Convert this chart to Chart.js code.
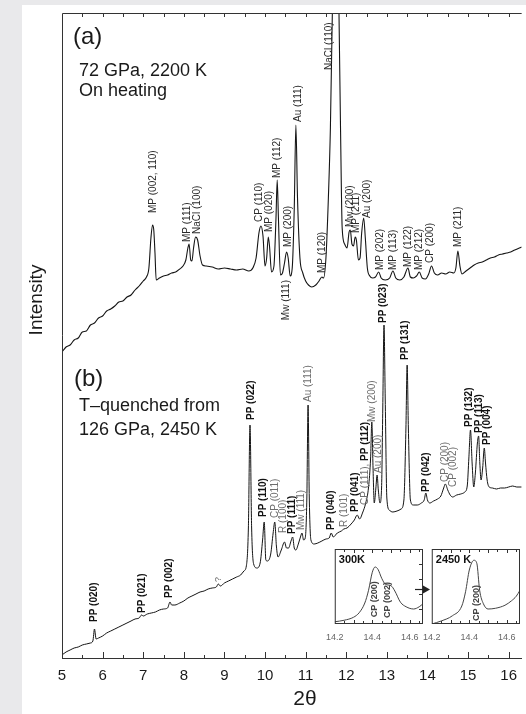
<!DOCTYPE html>
<html>
<head>
<meta charset="utf-8">
<script src="https://cdn.jsdelivr.net/npm/chart.js@4/dist/chart.umd.min.js"></script>
<style>
  html, body { margin: 0; padding: 0; width: 526px; height: 714px; overflow: hidden; background: #e9e9eb; }
  #sheet { position: absolute; left: 22px; top: 5px; width: 504px; height: 709px; background: #ffffff; }
  canvas { position: absolute; }
</style>
</head>
<body>
<div id="sheet"></div>
<canvas id="main" width="526" height="714" style="left:0;top:0"></canvas>
<canvas id="inset300" width="120" height="110" style="left:318px;top:540px"></canvas>
<canvas id="inset2450" width="120" height="110" style="left:415px;top:540px"></canvas>
<script>
// ---- (a) 72 GPa, 2200 K, on heating ----
const twoThetaA = [
  5.00, 5.10, 5.20, 5.30, 5.40, 5.50, 5.60, 5.70, 5.80, 5.90, 6.00, 6.10, 6.20, 6.30, 6.40, 6.50,
  6.60, 6.70, 6.80, 6.90, 7.00, 7.08, 7.14, 7.19, 7.23, 7.26, 7.29, 7.32, 7.40, 7.50, 7.60, 7.70,
  7.80, 7.90, 7.98, 8.05, 8.10, 8.13, 8.17, 8.20, 8.24, 8.29, 8.34, 8.40, 8.46, 8.55, 8.70, 8.85,
  9.00, 9.15, 9.30, 9.45, 9.60, 9.70, 9.78, 9.85, 9.90, 9.95, 10.00, 10.04, 10.08, 10.11, 10.16,
  10.22, 10.27, 10.30, 10.33, 10.38, 10.43, 10.48, 10.53, 10.57, 10.62, 10.67, 10.72, 10.76, 10.80,
  10.86, 10.93, 11.00, 11.07, 11.15, 11.25, 11.33, 11.40, 11.44, 11.50, 11.56, 11.61, 11.66, 11.70,
  11.74, 11.78, 11.82, 11.86, 11.90, 11.96, 12.02, 12.07, 12.10, 12.14, 12.18, 12.22, 12.25, 12.30,
  12.34, 12.38, 12.43, 12.47, 12.52, 12.58, 12.65, 12.72, 12.80, 12.86, 12.96, 13.07, 13.15, 13.22,
  13.32, 13.42, 13.52, 13.58, 13.65, 13.73, 13.80, 13.87, 13.95, 14.03, 14.10, 14.17, 14.25, 14.35,
  14.45, 14.55, 14.65, 14.70, 14.75, 14.80, 14.85, 14.95, 15.05, 15.15, 15.25, 15.35, 15.45, 15.55,
  15.65, 15.75, 15.85, 15.95, 16.05, 16.15, 16.32
];
const intensityA = [
  306, 311, 313, 318, 320, 326, 327, 333, 335, 340, 342, 347, 349, 352, 356, 357,
  361, 363, 368, 372, 377, 381, 390, 420, 433, 428, 405, 378, 380, 382, 383, 385,
  386, 389, 392, 398, 410, 414, 398, 397, 410, 421, 418, 402, 393, 392, 391, 389,
  390, 389, 388, 389, 387, 390, 400, 425, 432, 422, 392, 400, 421, 412, 386,
  392, 440, 478, 440, 383, 385, 395, 406, 400, 382, 390, 450, 533, 460,
  400, 385, 377, 373, 371, 373, 377, 381, 380, 400, 460, 530, 650, 780,
  900, 780, 650, 528, 430, 414, 410, 426, 428, 414, 412, 421, 418, 398,
  400, 425, 440, 420, 390, 382, 380, 381, 386, 380, 378, 380, 387, 380,
  378, 381, 390, 381, 380, 382, 386, 380, 379, 384, 392, 385, 383, 385,
  384, 386, 385, 390, 407, 392, 384, 387, 390, 393, 395, 396, 398, 400,
  401, 403, 404, 405, 406, 408, 411
];

// ---- (b) T-quenched from 126 GPa, 2450 K ----
const twoThetaB = [
  5.00, 5.10, 5.20, 5.30, 5.40, 5.50, 5.60, 5.70, 5.76, 5.80, 5.84, 5.90, 6.00, 6.10, 6.20, 6.30,
  6.40, 6.50, 6.60, 6.70, 6.80, 6.90, 6.96, 7.00, 7.10, 7.20, 7.30, 7.40, 7.50, 7.60, 7.66, 7.70,
  7.78, 7.90, 8.00, 8.10, 8.20, 8.30, 8.40, 8.50, 8.60, 8.70, 8.80, 8.85, 8.90, 9.00, 9.10, 9.20,
  9.30, 9.40, 9.48, 9.54, 9.59, 9.63, 9.67, 9.72, 9.80, 9.88, 9.94, 9.98, 10.02, 10.06, 10.14,
  10.20, 10.24, 10.28, 10.32, 10.40, 10.48, 10.53, 10.58, 10.64, 10.68, 10.72, 10.76, 10.82, 10.88,
  10.91, 10.95, 10.99, 11.03, 11.06, 11.09, 11.13, 11.21, 11.30, 11.40, 11.50, 11.58, 11.63, 11.68,
  11.78, 11.88, 11.94, 12.02, 12.12, 12.20, 12.27, 12.33, 12.40, 12.48, 12.55, 12.60, 12.63, 12.66,
  12.69, 12.73, 12.76, 12.79, 12.83, 12.87, 12.90, 12.93, 12.96, 13.00, 13.06, 13.15, 13.25, 13.35,
  13.42, 13.47, 13.50, 13.53, 13.58, 13.65, 13.75, 13.85, 13.92, 13.96, 14.00, 14.06, 14.15, 14.25,
  14.33, 14.40, 14.44, 14.50, 14.56, 14.62, 14.72, 14.82, 14.92, 14.98, 15.02, 15.06, 15.10, 15.14,
  15.18, 15.23, 15.26, 15.29, 15.32, 15.36, 15.40, 15.43, 15.47, 15.52, 15.60, 15.70, 15.80, 15.90,
  16.00, 16.10, 16.20, 16.32
];
const intensityB = [
  3, 6, 8, 10, 11, 13, 14, 15, 17, 29, 19, 20, 22, 25, 27, 29,
  31, 33, 35, 37, 39, 40, 43, 42, 44, 45, 46, 48, 49, 50, 56, 53,
  53, 55, 57, 60, 62, 64, 66, 67, 69, 70, 71, 74, 72, 75, 77, 79,
  81, 83, 87, 92, 130, 233, 130, 94, 90, 95, 118, 136, 98, 97, 104,
  125, 136, 112, 101, 108, 116, 110, 110, 117, 121, 110, 108, 114, 122,
  125, 118, 120, 160, 253, 160, 118, 114, 115, 117, 119, 120, 125, 121,
  125, 127, 129, 130, 134, 138, 143, 139, 145, 155, 171, 200, 236, 190,
  155, 170, 183, 168, 155, 170, 250, 333, 260, 160, 148, 146, 147, 149,
  158, 230, 293, 230, 158, 153, 153, 155, 158, 165, 158, 155, 157, 159,
  162, 170, 174, 168, 163, 161, 163, 164, 166, 172, 200, 228, 195, 171,
  185, 215, 222, 195, 178, 190, 210, 195, 178, 171, 170, 169, 170, 170,
  171, 172, 171, 171
];

// Peak assignments: [text, 2θ, intensity at the foot of the text]
const peakLabelsA = [
  ['MP (002, 110)', 7.25, 445], ['MP (111)', 8.08, 416], ['NaCl (100)', 8.33, 424],
  ['CP (110)', 9.87, 436], ['MP (020)', 10.10, 426], ['MP (112)', 10.30, 480],
  ['MP (200)', 10.56, 411], ['Au (111)', 10.81, 536], ['NaCl (110)', 11.58, 588],
  ['MP (120)', 11.41, 385], ['Mw (200)', 12.10, 431], ['MP (211)', 12.25, 425],
  ['Au (200)', 12.51, 440], ['MP (202)', 12.84, 388], ['MP (113)', 13.16, 388],
  ['MP (122)', 13.53, 391], ['MP (212)', 13.80, 388], ['CP (200)', 14.07, 395],
  ['MP (211)', 14.75, 411]
];
// hung below the trace: [text, 2θ, intensity at the head of the text]
const hangingLabelsA = [['Mw (111)', 10.52, 378]];

const peakLabelsB = [
  ['PP (020)', 5.80, 36], ['PP (021)', 6.97, 45], ['PP (002)', 7.65, 60], ['?', 8.85, 76],
  ['PP (022)', 9.65, 238], ['PP (110)', 9.95, 141], ['CP (011)', 10.24, 140],
  ['R (100)', 10.46, 125], ['PP (111)', 10.68, 124], ['Mw (111)', 10.90, 128],
  ['Au (111)', 11.07, 256], ['PP (040)', 11.63, 128], ['R (101)', 11.94, 131],
  ['PP (041)', 12.23, 146], ['CP (111), PP (112)', 12.46, 153], ['Mw (200)', 12.63, 236],
  ['Au (200)', 12.78, 185], ['PP (023)', 12.90, 335], ['PP (131)', 13.45, 298],
  ['PP (042)', 13.96, 166], ['CP (200)', 14.44, 176], ['CP (002)', 14.63, 171],
  ['PP (132)', 15.02, 231], ['PP (113)', 15.28, 225], ['PP (004)', 15.48, 213]
];

// ---- insets: CP (200)/(002) doublet, 14.2–14.67° ----
const twoThetaInset300 = [14.20, 14.25, 14.30, 14.33, 14.36, 14.38, 14.40, 14.415, 14.43, 14.45,
  14.47, 14.50, 14.52, 14.55, 14.58, 14.62, 14.65, 14.67];
const intensityInset300 = [3, 5, 9, 15, 28, 45, 69, 76, 73, 61, 53, 51, 44, 29, 23, 20, 23, 27];
const twoThetaInset2450 = [14.20, 14.25, 14.31, 14.36, 14.38, 14.40, 14.425, 14.44, 14.455, 14.475,
  14.50, 14.54, 14.59, 14.625, 14.65, 14.67];
const intensityInset2450 = [0, 4, 11, 24, 43, 72, 85, 81, 45, 27, 20, 21, 25, 31, 37, 45];
const insetLabels300 = [['CP (200)', 14.41, 9], ['CP (002)', 14.48, 8]];
const insetLabels2450 = [['CP (200)', 14.44, 4]];

const xTickLabels = [5, 6, 7, 8, 9, 10, 11, 12, 13, 14, 15, 16];
const insetTickLabels = [14.2, 14.4, 14.6];

const FONT = '"Liberation Sans", Arial, Helvetica, sans-serif';

function pts(xs, ys) { return xs.map((x, i) => ({ x: x, y: ys[i] })); }

// Rotated text reading upward, foot at (px, py); mixed weights per segment
function drawUpText(ctx, px, py, text, size, styleOf, hang) {
  const parts = text.split(/(?<=,) /);
  ctx.save();
  ctx.translate(px, py);
  ctx.rotate(-Math.PI / 2);
  ctx.textBaseline = 'middle';
  let total = 0;
  const sized = parts.map((p, i) => {
    const s = styleOf(p);
    ctx.font = `${s.bold ? 'bold ' : ''}${size}px ${FONT}`;
    const t = i < parts.length - 1 ? p + ' ' : p;
    const w = ctx.measureText(t).width;
    total += w;
    return { t, s, w };
  });
  let cx = hang ? -total : 0;
  sized.forEach(o => {
    ctx.font = `${o.s.bold ? 'bold ' : ''}${size}px ${FONT}`;
    ctx.fillStyle = o.s.color;
    ctx.fillText(o.t, cx, 0);
    cx += o.w;
  });
  ctx.restore();
}

const styleA = () => ({ bold: false, color: '#2a2a2a' });
const styleB = p => p.startsWith('PP') ? { bold: true, color: '#111' } : { bold: false, color: '#6e6e6e' };

const mainDecor = {
  id: 'mainDecor',
  afterDatasetsDraw(chart) {
    const { ctx, chartArea: a, scales: { x, y } } = chart;
    ctx.save();
    ctx.strokeStyle = '#333';
    ctx.lineWidth = 1;
    ctx.beginPath();
    ctx.moveTo(a.left + 0.5, a.bottom);
    ctx.lineTo(a.left + 0.5, a.top + 0.5);
    ctx.lineTo(a.right, a.top + 0.5);
    // inward tick marks, every half degree
    for (let k = 0; k <= 22; k++) {
      const v = 5 + k * 0.5;
      const px = Math.round(x.getPixelForValue(v)) + 0.5;
      if (px > a.right) break;
      const major = k % 2 === 0;
      ctx.moveTo(px, a.bottom);
      ctx.lineTo(px, a.bottom - (major ? 6 : 3));
      if (k > 0) {
        ctx.moveTo(px, a.top);
        ctx.lineTo(px, a.top + 4);
      }
    }
    ctx.stroke();

    // peak assignments
    peakLabelsA.forEach(([t, tt, iv]) =>
      drawUpText(ctx, x.getPixelForValue(tt), y.getPixelForValue(iv), t, 10, styleA, false));
    hangingLabelsA.forEach(([t, tt, iv]) =>
      drawUpText(ctx, x.getPixelForValue(tt), y.getPixelForValue(iv), t, 10, styleA, true));
    peakLabelsB.forEach(([t, tt, iv]) =>
      drawUpText(ctx, x.getPixelForValue(tt), y.getPixelForValue(iv), t, t === '?' ? 9 : 10, styleB, false));

    // panel captions
    ctx.fillStyle = '#1a1a1a';
    ctx.textBaseline = 'alphabetic';
    ctx.textAlign = 'left';
    ctx.font = `24px ${FONT}`;
    ctx.fillText('(a)', 73, 44);
    ctx.fillText('(b)', 74, 386);
    ctx.font = `18px ${FONT}`;
    ctx.fillText('72 GPa, 2200 K', 79, 76);
    ctx.fillText('On heating', 79, 96);
    ctx.fillText('T\u2013quenched from', 79, 411);
    ctx.fillText('126 GPa, 2450 K', 79, 435);

    // axis titles
    ctx.textAlign = 'center';
    ctx.textBaseline = 'middle';
    ctx.font = `21px ${FONT}`;
    ctx.fillText('2\u03b8', 305, 699);
    ctx.save();
    ctx.translate(37, 300);
    ctx.rotate(-Math.PI / 2);
    ctx.font = `19px ${FONT}`;
    ctx.fillText('Intensity', 0, 0);
    ctx.restore();
    ctx.restore();
  }
};

new Chart(document.getElementById('main'), {
  type: 'line',
  data: {
    datasets: [
      { data: pts(twoThetaA, intensityA), borderColor: '#151515', borderWidth: 1.1, pointRadius: 0, cubicInterpolationMode: 'monotone', fill: false },
      { data: pts(twoThetaB, intensityB), borderColor: '#151515', borderWidth: 1.0, pointRadius: 0, cubicInterpolationMode: 'monotone', fill: false }
    ]
  },
  options: {
    responsive: false, animation: false, devicePixelRatio: 1,
    layout: { padding: { left: 62, right: 0, top: 13, bottom: 0 } },
    plugins: { legend: { display: false }, tooltip: { enabled: false } },
    scales: {
      x: {
        type: 'linear', min: 5, max: 16.32,
        grid: { display: false, drawTicks: false },
        border: { display: true, color: '#333', width: 1 },
        ticks: {
          stepSize: 1, includeBounds: false, padding: 9, color: '#1a1a1a',
          font: { size: 15, family: FONT },
          callback: v => xTickLabels.includes(v) ? String(v) : ''
        },
        afterFit: s => { s.height = 56; }
      },
      y: { min: 0, max: 645, display: false }
    }
  },
  plugins: [mainDecor]
});

function makeInset(id, xs, ys, labels, title, rightTicks, arrow) {
  const decor = {
    id: 'insetDecor' + id,
    beforeDatasetsDraw(chart) {
      const { ctx, chartArea: a } = chart;
      ctx.save();
      ctx.fillStyle = '#fff';
      ctx.fillRect(a.left, a.top, a.right - a.left, a.bottom - a.top);
      ctx.restore();
    },
    afterDatasetsDraw(chart) {
      const { ctx, chartArea: a, scales: { x, y } } = chart;
      ctx.save();
      ctx.strokeStyle = '#333';
      ctx.lineWidth = 1;
      ctx.strokeRect(a.left + 0.5, a.top + 0.5, a.right - a.left - 1, a.bottom - a.top - 1);
      ctx.beginPath();
      for (let k = 1; k < 10; k++) {
        const px = Math.round(x.getPixelForValue(14.2 + k * 0.05)) + 0.5;
        if (px >= a.right - 1) break;
        const len = k % 2 === 0 ? 4 : 3;
        ctx.moveTo(px, a.bottom); ctx.lineTo(px, a.bottom - len);
        ctx.moveTo(px, a.top); ctx.lineTo(px, a.top + len);
      }
      if (rightTicks) {
        for (let v = 20; v < 100; v += 20) {
          const py = Math.round(y.getPixelForValue(v)) + 0.5;
          ctx.moveTo(a.right, py); ctx.lineTo(a.right - 4, py);
        }
      }
      ctx.stroke();
      ctx.fillStyle = '#111';
      ctx.font = `bold 11px ${FONT}`;
      ctx.textAlign = 'left';
      ctx.textBaseline = 'alphabetic';
      ctx.fillText(title, a.left + 4, a.top + 14);

      // arrow leading to the high-temperature panel
      if (arrow) {
        const ay = Math.round(y.getPixelForValue(47)) + 0.5;
        const x0 = a.right - 8, x1 = a.right + 7;
        ctx.strokeStyle = '#222';
        ctx.lineWidth = 1.2;
        ctx.beginPath();
        ctx.moveTo(x0, ay);
        ctx.lineTo(x1 - 4, ay);
        ctx.stroke();
        ctx.fillStyle = '#222';
        ctx.beginPath();
        ctx.moveTo(x1, ay);
        ctx.lineTo(x1 - 7, ay - 4);
        ctx.lineTo(x1 - 7, ay + 4);
        ctx.closePath();
        ctx.fill();
      }
      ctx.restore();
      labels.forEach(([t, tt, iv]) =>
        drawUpText(ctx, x.getPixelForValue(tt), y.getPixelForValue(iv), t, 9,
          () => ({ bold: true, color: '#444' }), false));
    }
  };
  return new Chart(document.getElementById(id), {
    type: 'line',
    data: { datasets: [{ data: pts(xs, ys), borderColor: '#444', borderWidth: 1, pointRadius: 0, cubicInterpolationMode: 'monotone', fill: false }] },
    options: {
      responsive: false, animation: false, devicePixelRatio: 1,
      layout: { padding: { left: 15, right: 15, top: 9, bottom: 6 } },
      plugins: { legend: { display: false }, tooltip: { enabled: false } },
      scales: {
        x: {
          type: 'linear', min: 14.2, max: 14.67,
          grid: { display: false, drawTicks: false },
          border: { display: false },
          ticks: {
            stepSize: 0.2, includeBounds: false, padding: 8, color: '#666', maxRotation: 0,
            font: { size: 9, family: FONT },
            callback: v => insetTickLabels.some(t => Math.abs(t - v) < 1e-6) ? v.toFixed(1) : ''
          },
          afterFit: s => { s.height = 20; }
        },
        y: { min: 0, max: 100, display: false }
      }
    },
    plugins: [decor]
  });
}

makeInset('inset300', twoThetaInset300, intensityInset300, insetLabels300, '300K', true, true);
makeInset('inset2450', twoThetaInset2450, intensityInset2450, insetLabels2450, '2450 K', false, false);
</script>
</body>
</html>
